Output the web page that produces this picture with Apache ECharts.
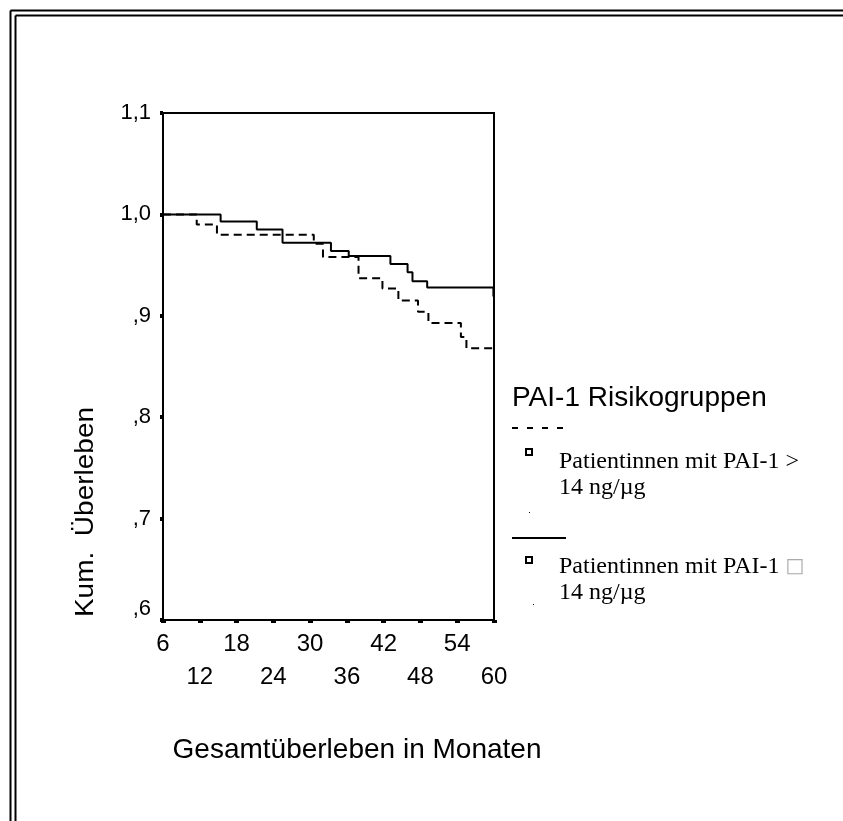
<!DOCTYPE html>
<html>
<head>
<meta charset="utf-8">
<script src="https://cdn.jsdelivr.net/npm/echarts@6/dist/echarts.min.js"></script>
<style>
  html, body { margin: 0; padding: 0; background: #fff; }
  #km-chart { width: 843px; height: 821px; }
</style>
</head>
<body>
<div id="km-chart"></div>
<script>
// Kaplan-Meier Stufen: Monat des Abfalls -> neues Niveau
var monthsHigh = [6, 11.5, 14.8, 30.6, 32.1, 37.9, 41.8, 44.4, 47.6, 49.3, 54.6, 55.5, 60];
var survivalHigh = [1.0, 0.990, 0.980, 0.971, 0.958, 0.937, 0.927, 0.915, 0.904, 0.893, 0.879, 0.868, 0.868];
var monthsLow = [6, 15.4, 21.3, 25.5, 33.4, 36.3, 43.1, 45.9, 46.7, 49.1, 59.9, 60];
var survivalLow = [1.0, 0.993, 0.985, 0.972, 0.964, 0.959, 0.951, 0.943, 0.934, 0.928, 0.919, 0.919];

var seriesNames = ["Patientinnen mit PAI-1 >\n14 ng/\u00b5g", "Patientinnen mit PAI-1 \u25a1\n14 ng/\u00b5g"];
var legendTitle = "PAI-1 Risikogruppen";
var xTitle = "Gesamt\u00fcberleben in Monaten";
var yTitle = "Kum.  \u00dcberleben";

function zip(xs, ys) {
  var out = [];
  for (var i = 0; i < xs.length; i++) out.push([xs[i], ys[i]]);
  return out;
}

function renderChart() {
  var chartDom = document.getElementById("km-chart");
  var myChart = echarts.init(chartDom);
  var option;
  var sans = "Liberation Sans, Arial, sans-serif";
  var serif = "Liberation Serif, Times New Roman, serif";

  option = {
    animation: false,
    grid: {
      left: 163,
      top: 113,
      right: 349,
      bottom: 201,
      show: true,
      borderColor: "#000",
      borderWidth: 2,
    },
    xAxis: {
      type: "value",
      min: 6,
      max: 60,
      interval: 6,
      splitLine: { show: false },
      axisLine: { lineStyle: { color: "#000", width: 2 } },
      axisTick: { length: 3, lineStyle: { color: "#000", width: 5 } },
      axisLabel: {
        color: "#000",
        fontFamily: sans,
        fontSize: 24,
        lineHeight: 33,
        margin: 8,
        formatter: function (v) {
          return ((v - 6) / 6) % 2 === 1 ? "\n" + v : String(v);
        },
      },
    },
    yAxis: {
      type: "value",
      min: 0.6,
      max: 1.1,
      interval: 0.1,
      splitLine: { show: false },
      axisLine: { lineStyle: { color: "#000", width: 2 } },
      axisTick: { length: 3, lineStyle: { color: "#000", width: 4 } },
      axisLabel: {
        color: "#000",
        fontFamily: sans,
        fontSize: 22,
        margin: 12,
        verticalAlignMinLabel: "bottom",
        formatter: function (v) {
          var s = v.toFixed(1).replace(".", ",");
          return s.charAt(0) === "0" ? s.slice(1) : s;
        },
      },
    },
    series: [
      {
        name: seriesNames[0],
        type: "line",
        step: "end",
        symbol: "none",
        clip: false,
        lineStyle: { color: "#000", width: 2, type: [8, 5] },
        data: zip(monthsHigh, survivalHigh),
      },
      {
        name: seriesNames[1],
        type: "line",
        step: "end",
        symbol: "none",
        clip: false,
        lineStyle: { color: "#000", width: 2 },
        data: zip(monthsLow, survivalLow),
      },
    ],
    graphic: [
      // doppelter Rahmen
      { type: "line", shape: { x1: 10.5, y1: 10.5, x2: 843, y2: 10.5 }, style: { stroke: "#000", lineWidth: 2 } },
      { type: "line", shape: { x1: 15.5, y1: 15.5, x2: 843, y2: 15.5 }, style: { stroke: "#000", lineWidth: 2 } },
      { type: "line", shape: { x1: 10.5, y1: 10.5, x2: 10.5, y2: 821 }, style: { stroke: "#000", lineWidth: 2 } },
      { type: "line", shape: { x1: 15.5, y1: 15.5, x2: 15.5, y2: 821 }, style: { stroke: "#000", lineWidth: 2 } },
      // Achsentitel
      {
        type: "text",
        x: 357,
        y: 750,
        style: { text: xTitle, font: "28px " + sans, fill: "#000", align: "center", verticalAlign: "middle" },
      },
      {
        type: "text",
        x: 86,
        y: 512,
        rotation: Math.PI / 2,
        scaleY: 0.9,
        style: { text: yTitle, font: "28px " + sans, fill: "#000", align: "center", verticalAlign: "middle" },
      },
      // Legende
      {
        type: "text",
        x: 512,
        y: 398,
        style: { text: legendTitle, font: "28px " + sans, fill: "#000", align: "left", verticalAlign: "middle" },
      },
      {
        type: "line",
        shape: { x1: 512, y1: 428, x2: 566, y2: 428 },
        style: { stroke: "#000", lineWidth: 2, lineDash: [6, 9] },
      },
      { type: "rect", shape: { x: 526, y: 449, width: 6, height: 6 }, style: { fill: "#fff", stroke: "#000", lineWidth: 2 } },
      {
        type: "text",
        x: 559,
        y: 475,
        style: { text: seriesNames[0], font: "24px " + serif, lineHeight: 26, fill: "#000", align: "left", verticalAlign: "middle" },
      },
      { type: "rect", shape: { x: 529, y: 512, width: 1, height: 1 }, style: { fill: "#000" } },
      {
        type: "line",
        shape: { x1: 512, y1: 538, x2: 566, y2: 538 },
        style: { stroke: "#000", lineWidth: 2 },
      },
      { type: "rect", shape: { x: 526, y: 557, width: 6, height: 6 }, style: { fill: "#fff", stroke: "#000", lineWidth: 2 } },
      {
        type: "rect",
        shape: { x: 533, y: 604, width: 1, height: 1 },
        style: { fill: "#000" },
      },
      // zweiter Legendeneintrag, Ersatzzeichen hell
      {
        type: "text",
        x: 559,
        y: 580,
        style: {
          text: "{t|Patientinnen mit PAI-1 }{g|\u25a1}\n{t|14 ng/\u00b5g}",
          rich: {
            t: { font: "24px " + serif, fill: "#000", lineHeight: 26 },
            g: { font: "20px DejaVu Sans", fill: "#aaa", lineHeight: 26 },
          },
          align: "left",
          verticalAlign: "middle",
        },
      },
    ],
  };

  option && myChart.setOption(option);
}
renderChart();
</script>
</body>
</html>
